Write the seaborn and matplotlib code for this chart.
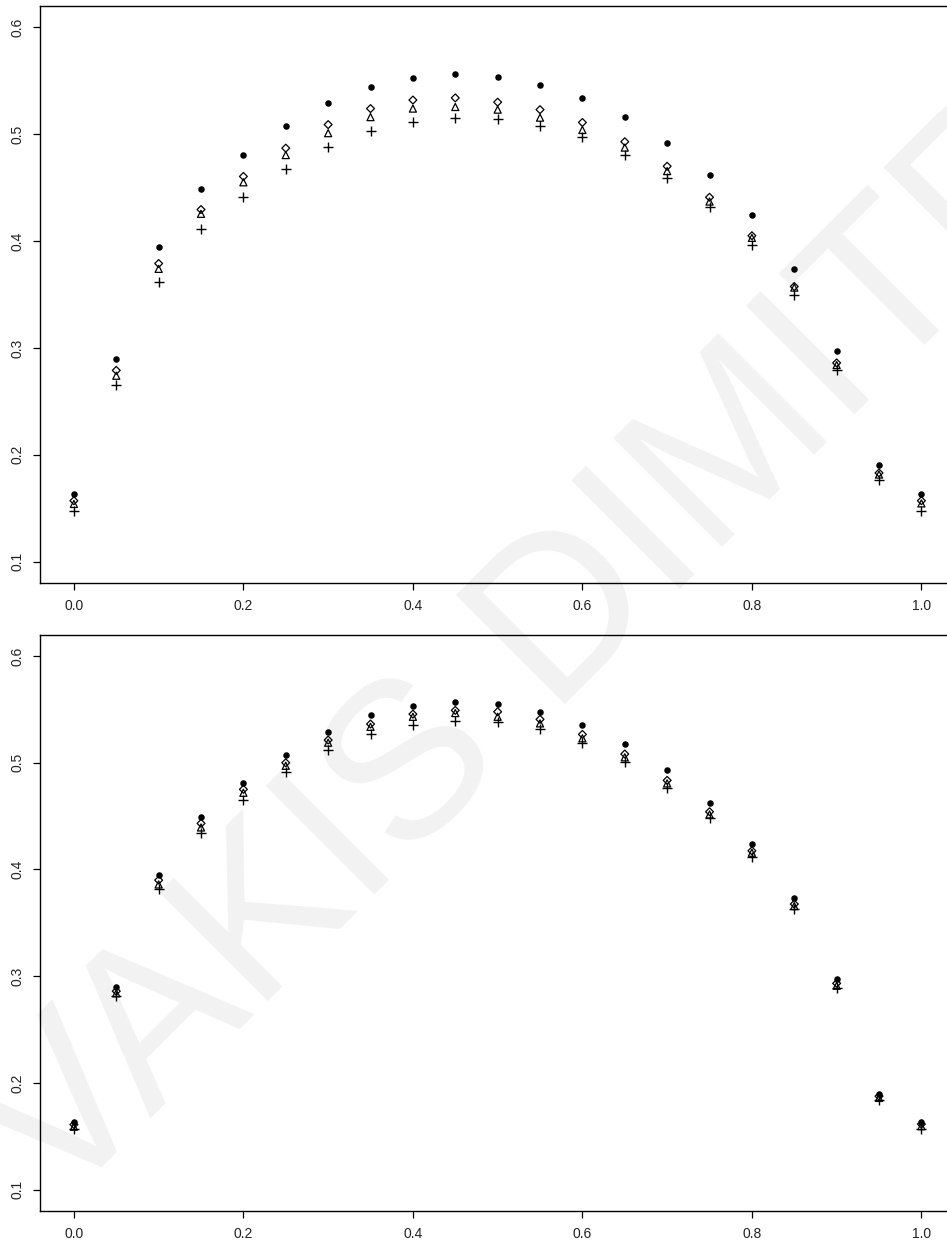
import matplotlib
matplotlib.use("Agg")
import matplotlib.pyplot as plt
import seaborn as sns
import pandas as pd

# x grid shared by both panels
x_vals = [0.00, 0.05, 0.10, 0.15, 0.20, 0.25, 0.30, 0.35, 0.40, 0.45, 0.50,
          0.55, 0.60, 0.65, 0.70, 0.75, 0.80, 0.85, 0.90, 0.95, 1.00]

# upper panel
top_dot = [0.163, 0.2895, 0.3945, 0.4485, 0.481, 0.5075, 0.529, 0.544, 0.5525, 0.556, 0.554,
           0.546, 0.534, 0.516, 0.492, 0.462, 0.4245, 0.3735, 0.297, 0.190, 0.163]
top_diamond = [0.157, 0.279, 0.379, 0.4295, 0.4605, 0.487, 0.509, 0.524, 0.532, 0.534, 0.530,
               0.523, 0.511, 0.493, 0.470, 0.441, 0.405, 0.3575, 0.286, 0.183, 0.157]
top_triangle = [0.154, 0.274, 0.374, 0.4255, 0.455, 0.4805, 0.501, 0.516, 0.524, 0.5255, 0.523,
                0.5155, 0.504, 0.4875, 0.4655, 0.437, 0.403, 0.3565, 0.284, 0.1815, 0.1545]
top_plus = [0.147, 0.2655, 0.3615, 0.411, 0.441, 0.467, 0.488, 0.503, 0.511, 0.515, 0.514,
            0.508, 0.4975, 0.481, 0.459, 0.4315, 0.396, 0.350, 0.279, 0.1765, 0.147]

# lower panel
bot_dot = [0.1635, 0.290, 0.3945, 0.4488, 0.4807, 0.507, 0.529, 0.5444, 0.553, 0.5566, 0.5547,
           0.5478, 0.5353, 0.5172, 0.4929, 0.4625, 0.4241, 0.3729, 0.297, 0.190, 0.1635]
bot_diamond = [0.161, 0.286, 0.390, 0.4432, 0.4751, 0.500, 0.5213, 0.5363, 0.5456, 0.5491, 0.5478,
               0.5407, 0.5266, 0.5082, 0.4835, 0.4541, 0.4175, 0.3676, 0.2933, 0.1876, 0.1614]
bot_triangle = [0.159, 0.284, 0.386, 0.4394, 0.4719, 0.4972, 0.5188, 0.5337, 0.5431, 0.5466, 0.5431,
                0.5369, 0.5229, 0.5051, 0.4807, 0.4516, 0.4157, 0.3657, 0.2911, 0.186, 0.1595]
bot_plus = [0.157, 0.2813, 0.3813, 0.4338, 0.465, 0.4913, 0.5119, 0.5266, 0.5353, 0.5394, 0.5381,
            0.5313, 0.5188, 0.501, 0.4766, 0.4479, 0.4119, 0.3626, 0.2886, 0.1839, 0.1573]

x_ticks = [0.0, 0.2, 0.4, 0.6, 0.8, 1.0]
x_ticklabels = ["0.0", "0.2", "0.4", "0.6", "0.8", "1.0"]
y_ticks = [0.1, 0.2, 0.3, 0.4, 0.5, 0.6]
y_ticklabels = ["0.1", "0.2", "0.3", "0.4", "0.5", "0.6"]

watermark = "VAKIS DIMITR"

sns.set_style("white")
plt.rcParams['font.family'] = ['Liberation Sans', 'DejaVu Sans']
plt.rcParams['font.size'] = 10


def draw_panel(ax, dot, diamond, triangle, plus):
    df = pd.DataFrame({"x": x_vals, "dot": dot, "diamond": diamond,
                       "triangle": triangle, "plus": plus})
    sns.scatterplot(data=df, x="x", y="dot", ax=ax, marker="o", s=22,
                    color="black", edgecolor="black", linewidth=0, zorder=3)
    sns.scatterplot(data=df, x="x", y="diamond", ax=ax, marker="D", s=16,
                    facecolor="none", edgecolor="black", linewidth=0.9, zorder=3)
    sns.scatterplot(data=df, x="x", y="triangle", ax=ax, marker="^", s=26,
                    facecolor="none", edgecolor="black", linewidth=0.9, zorder=3)
    sns.scatterplot(data=df, x="x", y="plus", ax=ax, marker="+", s=42,
                    color="black", linewidth=1.0, zorder=3)

    ax.set_xlim(-0.04, 1.04)
    ax.set_ylim(0.08, 0.62)
    ax.set_xticks(x_ticks)
    ax.set_xticklabels(x_ticklabels)
    ax.set_yticks(y_ticks)
    ax.set_yticklabels(y_ticklabels, rotation=90, va="center")
    ax.set_xlabel("")
    ax.set_ylabel("")
    ax.tick_params(axis="both", bottom=True, left=True, direction="out",
                   length=5, width=0.9, color="black", labelsize=10,
                   labelcolor="#222222", pad=6.5)
    for sp in ax.spines.values():
        sp.set_visible(True)
        sp.set_color("black")
        sp.set_linewidth(1.0)
    ax.set_facecolor("none")
    ax.grid(False)


fig = plt.figure(figsize=(9.47, 12.43), dpi=100)
fig.patch.set_facecolor("white")

ax_top = fig.add_axes([40 / 947, 1 - 583 / 1243, 915.3 / 947, 577 / 1243])
ax_bot = fig.add_axes([40 / 947, 1 - 1211 / 1243, 915.3 / 947, 576.3 / 1243])

draw_panel(ax_top, top_dot, top_diamond, top_triangle, top_plus)
draw_panel(ax_bot, bot_dot, bot_diamond, bot_triangle, bot_plus)

# faint diagonal watermark behind the points
fig.text(0.565, 0.475, watermark, fontsize=160, color="#f2f2f2", rotation=45,
         ha="center", va="center", rotation_mode="anchor", zorder=-1)

fig.savefig("out.png", dpi=100, facecolor="white")
